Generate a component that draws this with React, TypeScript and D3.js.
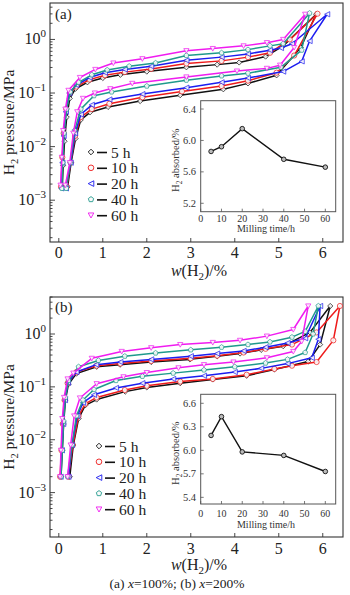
import * as d3 from "d3";

type Pt = [number, number];

const FONT = "'Liberation Serif','Times New Roman',serif";

const hours = ["5 h", "10 h", "20 h", "40 h", "60 h"];
const colors = ["#111111", "#ee1b1b", "#1c1cf0", "#1f9a8c", "#f01cf0"];
const shapes = ["diamond", "circle", "ltri", "pent", "dtri"];

const xTicks = [0, 1, 2, 3, 4, 5, 6];
const yMajor = [0, -1, -2, -3];

// w(H2) %, lg(P / MPa): absorption branch, then desorption branch
const a05: Pt[] = [[0.08,-2.75],[0.1,-2.35],[0.13,-1.9],[0.18,-1.45],[0.25,-1.1],[0.38,-0.92],[0.65,-0.8],[1.0,-0.72],[1.4,-0.66],[2.0,-0.6],[2.9,-0.52],[3.6,-0.47],[4.1,-0.43],[4.7,-0.32],[5.1,-0.12],[5.85,0.47],[5.5,-0.15],[4.95,-0.67],[4.3,-0.82],[3.74,-0.93],[2.76,-1.04],[1.85,-1.15],[1.12,-1.26],[0.71,-1.36],[0.5,-1.5],[0.38,-1.85],[0.28,-2.3],[0.2,-2.75]];
const a10: Pt[] = [[0.05,-2.75],[0.08,-2.2],[0.11,-1.75],[0.17,-1.3],[0.25,-1.0],[0.4,-0.88],[0.7,-0.75],[1.05,-0.67],[1.5,-0.61],[2.1,-0.55],[2.9,-0.45],[3.7,-0.4],[4.3,-0.33],[4.8,-0.25],[5.25,0.0],[5.88,0.48],[5.35,-0.3],[4.95,-0.62],[4.3,-0.77],[3.7,-0.87],[2.8,-0.97],[1.9,-1.08],[1.15,-1.2],[0.75,-1.3],[0.5,-1.45],[0.37,-1.8],[0.27,-2.3],[0.18,-2.75]];
const a20: Pt[] = [[0.06,-2.78],[0.08,-2.3],[0.11,-1.8],[0.16,-1.35],[0.24,-1.0],[0.4,-0.85],[0.7,-0.71],[1.05,-0.62],[1.5,-0.56],[2.1,-0.5],[2.9,-0.39],[3.7,-0.33],[4.3,-0.27],[4.8,-0.2],[5.05,-0.16],[5.3,-0.08],[6.1,0.47],[5.7,-0.03],[5.52,-0.41],[5.1,-0.6],[4.3,-0.72],[3.7,-0.8],[2.9,-0.9],[1.9,-1.02],[1.15,-1.12],[0.75,-1.22],[0.5,-1.4],[0.37,-1.75],[0.27,-2.3],[0.16,-2.78]];
const a40: Pt[] = [[0.07,-2.78],[0.09,-2.3],[0.12,-1.75],[0.18,-1.3],[0.26,-0.98],[0.45,-0.8],[0.75,-0.66],[1.1,-0.57],[1.6,-0.5],[2.2,-0.44],[2.9,-0.3],[3.7,-0.25],[4.3,-0.19],[4.8,-0.12],[5.1,-0.08],[5.7,0.49],[5.52,-0.2],[5.05,-0.52],[4.3,-0.63],[3.7,-0.68],[2.9,-0.76],[2.0,-0.87],[1.2,-0.98],[0.8,-1.05],[0.5,-1.3],[0.36,-1.7],[0.26,-2.3],[0.17,-2.78]];
const a60: Pt[] = [[0.04,-2.72],[0.07,-2.2],[0.1,-1.7],[0.15,-1.3],[0.22,-0.95],[0.48,-0.71],[0.83,-0.56],[1.24,-0.44],[1.9,-0.36],[2.9,-0.21],[3.5,-0.17],[4.2,-0.12],[4.73,-0.06],[5.1,0.0],[5.6,0.47],[5.35,-0.15],[5.03,-0.48],[4.73,-0.54],[4.05,-0.59],[2.9,-0.7],[1.67,-0.82],[1.17,-0.92],[0.82,-1.0],[0.55,-1.1],[0.42,-1.35],[0.33,-1.75],[0.25,-2.3],[0.15,-2.72]];

const b05: Pt[] = [[0.05,-2.7],[0.08,-2.2],[0.11,-1.7],[0.15,-1.25],[0.22,-0.95],[0.4,-0.75],[0.86,-0.62],[1.39,-0.58],[2.1,-0.53],[2.98,-0.48],[3.6,-0.42],[4.12,-0.37],[4.6,-0.3],[5.1,-0.23],[5.71,0.03],[6.17,0.53],[5.94,-0.2],[5.67,-0.52],[4.9,-0.67],[4.27,-0.79],[3.5,-0.86],[2.76,-0.93],[2.0,-1.01],[1.51,-1.09],[0.86,-1.24],[0.6,-1.35],[0.45,-1.6],[0.33,-2.1],[0.25,-2.7]];
const b10: Pt[] = [[0.03,-2.7],[0.06,-2.2],[0.09,-1.7],[0.13,-1.25],[0.2,-0.93],[0.4,-0.72],[0.86,-0.6],[1.4,-0.56],[2.1,-0.51],[3.0,-0.46],[3.6,-0.41],[4.2,-0.35],[4.7,-0.28],[5.3,-0.2],[5.86,0.03],[6.39,0.53],[6.24,-0.12],[5.86,-0.53],[5.3,-0.6],[4.9,-0.66],[4.27,-0.77],[3.5,-0.85],[2.76,-0.9],[2.0,-0.98],[1.5,-1.06],[0.86,-1.2],[0.6,-1.32],[0.45,-1.55],[0.32,-2.1],[0.22,-2.7]];
const b20: Pt[] = [[0.04,-2.7],[0.07,-2.2],[0.1,-1.7],[0.14,-1.25],[0.21,-0.92],[0.4,-0.72],[0.85,-0.58],[1.4,-0.53],[2.1,-0.48],[3.0,-0.42],[3.6,-0.37],[4.2,-0.32],[4.7,-0.25],[5.2,-0.17],[5.6,-0.08],[5.94,0.53],[5.9,-0.1],[5.75,-0.45],[5.2,-0.56],[4.6,-0.65],[4.0,-0.72],[3.3,-0.79],[2.6,-0.85],[1.9,-0.93],[1.3,-1.02],[0.8,-1.15],[0.55,-1.3],[0.42,-1.55],[0.3,-2.1],[0.22,-2.7]];
const b40: Pt[] = [[0.05,-2.7],[0.08,-2.2],[0.11,-1.65],[0.15,-1.2],[0.22,-0.88],[0.45,-0.62],[0.9,-0.5],[1.5,-0.42],[2.2,-0.36],[3.0,-0.3],[3.7,-0.25],[4.3,-0.2],[4.8,-0.15],[5.3,-0.06],[5.6,0.05],[5.9,0.53],[5.78,0.0],[5.6,-0.35],[5.2,-0.48],[4.7,-0.55],[4.0,-0.62],[3.3,-0.68],[2.6,-0.74],[1.9,-0.8],[1.3,-0.88],[0.8,-1.05],[0.55,-1.25],[0.4,-1.55],[0.3,-2.1],[0.2,-2.7]];
const b60: Pt[] = [[0.03,-2.7],[0.05,-2.2],[0.08,-1.6],[0.12,-1.2],[0.2,-0.85],[0.33,-0.74],[0.75,-0.46],[1.43,-0.33],[2.1,-0.26],[2.76,-0.2],[3.5,-0.16],[4.12,-0.12],[4.73,-0.04],[5.33,0.085],[5.67,0.53],[5.52,-0.14],[5.33,-0.33],[4.73,-0.45],[3.97,-0.53],[3.3,-0.58],[2.72,-0.64],[2.0,-0.73],[1.47,-0.81],[0.86,-0.94],[0.48,-1.21],[0.35,-1.55],[0.27,-2.1],[0.2,-2.7]];

// inset: H2 absorbed vs milling time
const millTime = [5, 10, 20, 40, 60];
const absorbedA = [5.86, 5.92, 6.15, 5.76, 5.66];
const absorbedB = [6.19, 6.43, 5.98, 5.935, 5.73];
const insetYTicksA = [5.2, 5.6, 6.0, 6.4];
const insetYTicksB = [5.4, 5.7, 6.0, 6.3, 6.6];
const insetXTicks = [0, 10, 20, 30, 40, 50, 60];

const L = 50, R = 343;
const x = d3.scaleLinear().domain([-0.2, 6.46]).range([L, R]);
const ix = d3.scaleLinear().domain([0, 65]).range([200.7, 335.7]);

function marker(shape: string, r: number) {
  if (shape === "diamond") return `M0,${-r}L${r},0L0,${r}L${-r},0Z`;
  if (shape === "ltri") return `M${-r},0L${r},${-r}L${r},${r}Z`;
  if (shape === "dtri") return `M${-r},${-r * 0.8}L${r},${-r * 0.8}L0,${r}Z`;
  if (shape === "pent") {
    const pts = d3.range(5).map(i => {
      const a = -Math.PI / 2 + (i * 2 * Math.PI) / 5;
      return [r * Math.cos(a), r * Math.sin(a)];
    });
    return "M" + pts.map(p => p.join(",")).join("L") + "Z";
  }
  return d3.symbol(d3.symbolCircle, Math.PI * r * r)() as string;
}

type Cfg = {
  top: number; bottom: number; lgMin: number; lgMax: number;
  loops: Pt[][]; label: string; labelY: number;
  legX: number; legY: number;
  tickY: number; titleY: number;
  iTop: number; iBottom: number; iDom: [number, number]; iTicks: number[]; iData: number[];
  iTickY: number; iTitleY: number;
};

function Panel({ c }: { c: Cfg }) {
  const y = d3.scaleLog().domain([10 ** c.lgMin, 10 ** c.lgMax]).range([c.bottom, c.top]);
  const line = d3.line<Pt>().x(d => x(d[0])).y(d => y(10 ** d[1]));
  const iy = d3.scaleLinear().domain(c.iDom).range([c.iBottom, c.iTop]);
  const iline = d3.line<number>().x((_, i) => ix(millTime[i])).y(d => iy(d));
  const logTicks = y.ticks();
  const midY = (c.top + c.bottom) / 2;
  const iMid = (c.iTop + c.iBottom) / 2;

  return (
    <g fontFamily={FONT}>
      <rect x={L} y={c.top} width={R - L} height={c.bottom - c.top} fill="#fff" stroke="#333" strokeWidth={1.1} />
      {logTicks.map((t, i) => {
        const lg = Math.log10(t);
        const major = Math.abs(lg - Math.round(lg)) < 1e-6;
        return <line key={i} x1={L} x2={L + (major ? 5 : 2.5)} y1={y(t)} y2={y(t)} stroke="#333" strokeWidth={0.9} />;
      })}
      {yMajor.map(e => (
        <text key={e} x={46} y={y(10 ** e) + 5} textAnchor="end" fontSize={16} fill="#222">
          10<tspan dy={-7} fontSize={11}>{e === 0 ? "0" : "\u2212" + Math.abs(e)}</tspan>
        </text>
      ))}
      {xTicks.map(t => (
        <g key={t}>
          <line x1={x(t)} x2={x(t)} y1={c.bottom} y2={c.bottom - 4} stroke="#333" strokeWidth={0.9} />
          <text x={x(t)} y={c.tickY} textAnchor="middle" fontSize={16} fill="#222">{t}</text>
        </g>
      ))}
      <text x={199} y={c.titleY} textAnchor="middle" fontSize={16} fill="#222">
        <tspan fontStyle="italic">w</tspan>(H<tspan fontSize={11} dy={4}>2</tspan><tspan dy={-4}>)/%</tspan>
      </text>
      <text transform={`translate(14,${midY}) rotate(-90)`} textAnchor="middle" fontSize={15.5} fill="#222">
        H<tspan fontSize={10.5} dy={4}>2</tspan><tspan dy={-4}> pressure/MPa</tspan>
      </text>
      <text x={55} y={c.labelY} fontSize={15} fill="#222">{c.label}</text>

      {c.loops.map((pts, s) => (
        <g key={s}>
          <path d={line(pts) as string} fill="none" stroke={colors[s]} strokeWidth={1.5} strokeLinejoin="round" />
          {pts.map((d, i) => (
            <path key={i} d={marker(shapes[s], 2.6)} transform={`translate(${x(d[0])},${y(10 ** d[1])})`}
              fill="#fafafa" stroke={colors[s]} strokeWidth={0.8} opacity={0.9} />
          ))}
        </g>
      ))}

      {hours.map((h, i) => {
        const ly = c.legY + i * 15.8;
        return (
          <g key={h}>
            <path d={marker(shapes[i], 2.8)} transform={`translate(${c.legX},${ly})`} fill="#fafafa" stroke={colors[i]} strokeWidth={0.9} />
            <line x1={c.legX + 6} x2={c.legX + 16} y1={ly + 0.5} y2={ly + 0.5} stroke="#111" strokeWidth={1.6} />
            <text x={c.legX + 20} y={ly + 5.5} fontSize={15.5} fill="#222">{h}</text>
          </g>
        );
      })}

      <rect x={ix.range()[0]} y={c.iTop} width={ix.range()[1] - ix.range()[0]} height={c.iBottom - c.iTop} fill="#fff" stroke="#555" strokeWidth={1} />
      {insetXTicks.map(t => (
        <g key={t}>
          <line x1={ix(t)} x2={ix(t)} y1={c.iBottom} y2={c.iBottom - 3} stroke="#555" strokeWidth={0.8} />
          <text x={ix(t)} y={c.iTickY} textAnchor="middle" fontSize={10} fill="#333">{t}</text>
        </g>
      ))}
      {c.iTicks.map(t => (
        <g key={t}>
          <line x1={ix.range()[0]} x2={ix.range()[0] + 3} y1={iy(t)} y2={iy(t)} stroke="#555" strokeWidth={0.8} />
          <text x={196} y={iy(t) + 3.5} textAnchor="end" fontSize={10.5} fill="#333">{t.toFixed(1)}</text>
        </g>
      ))}
      <text x={266} y={c.iTitleY} textAnchor="middle" fontSize={10} fill="#333">Milling time/h</text>
      <text transform={`translate(179,${iMid + 4}) rotate(-90)`} textAnchor="middle" fontSize={10.5} fill="#333">
        H<tspan fontSize={7.5} dy={2.5}>2</tspan><tspan dy={-2.5}> absorbed/%</tspan>
      </text>
      <path d={iline(c.iData) as string} fill="none" stroke="#111" strokeWidth={1.4} />
      {c.iData.map((d, i) => (
        <circle key={i} cx={ix(millTime[i])} cy={iy(d)} r={2.3} fill="#bbb" stroke="#111" strokeWidth={0.9} />
      ))}
    </g>
  );
}

const cfgA: Cfg = {
  top: 3, bottom: 242, lgMin: -3.78, lgMax: 0.68,
  loops: [a05, a10, a20, a40, a60], label: "(a)", labelY: 19,
  legX: 91, legY: 152, tickY: 258, titleY: 276,
  iTop: 100.7, iBottom: 211.7, iDom: [5.093, 6.506], iTicks: insetYTicksA, iData: absorbedA,
  iTickY: 221.5, iTitleY: 232,
};

const cfgB: Cfg = {
  top: 297, bottom: 537, lgMin: -3.84, lgMax: 0.7,
  loops: [b05, b10, b20, b40, b60], label: "(b)", labelY: 312,
  legX: 99, legY: 446, tickY: 554, titleY: 570,
  iTop: 394.3, iBottom: 504, iDom: [5.315, 6.715], iTicks: insetYTicksB, iData: absorbedB,
  iTickY: 516.5, iTitleY: 527.5,
};

export default function App() {
  return (
    <svg width={350} height={595} style={{ position: "absolute", left: 0, top: 0, background: "#fff" }}>
      <rect width={350} height={595} fill="#fff" />
      <Panel c={cfgA} />
      <Panel c={cfgB} />
      <text x={177} y={588} textAnchor="middle" fontSize={13.5} fontFamily={FONT} fill="#222">
        (a) <tspan fontStyle="italic">x</tspan>=100%; (b) <tspan fontStyle="italic">x</tspan>=200%
      </text>
    </svg>
  );
}
